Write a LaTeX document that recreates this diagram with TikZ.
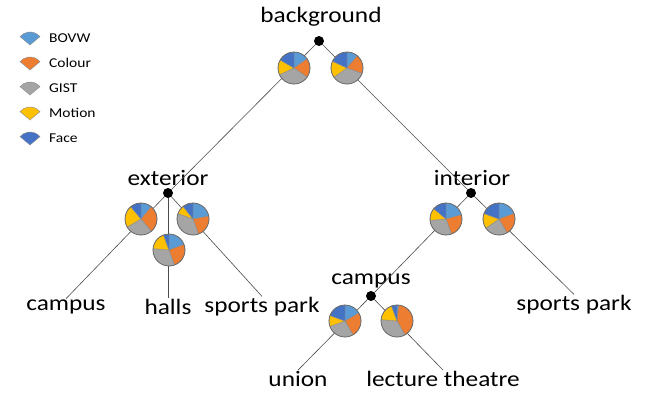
\documentclass[tikz,border=0pt]{standalone}
\usepackage{fontspec}
\setmainfont{Carlito}[FakeStretch=1.15]
\definecolor{bovw}{HTML}{5B9BD5}
\definecolor{colour}{HTML}{ED7D31}
\definecolor{gist}{HTML}{A5A5A5}
\definecolor{motion}{HTML}{FFC000}
\definecolor{face}{HTML}{4472C4}
\newcommand\pierad{16}
% one slice, angles measured clockwise from the top
\newcommand\pieslice[4]{\filldraw[slice,fill=#2] (#1) -- ++({90-#3}:\pierad) arc[start angle={90-#3}, end angle={90-#4}, radius=\pierad] -- cycle;}
% full chart: centre, then the cumulative end angles of BOVW, Colour, GIST, Motion
\newcommand\piechart[5]{%
  \pieslice{#1}{bovw}{0}{#2}
  \pieslice{#1}{colour}{#2}{#3}
  \pieslice{#1}{gist}{#3}{#4}
  \pieslice{#1}{motion}{#4}{#5}
  \pieslice{#1}{face}{#5}{360}
  \draw[pieedge] (#1) circle[radius=\pierad];}
% legend wedge pointing down
\newcommand\legwedge[2]{\filldraw[slice,fill=#2] (#1) -- ++(40:13) arc[start angle=40, end angle=140, radius=13] -- cycle;}
\begin{document}
\begin{tikzpicture}[x=1pt,y=1pt,
  lab/.style={font=\fontsize{22}{24}\selectfont, inner sep=1pt},
  leglab/.style={font=\fontsize{13.5}{15}\selectfont, anchor=west, inner sep=0pt},
  dot/.style={circle, fill=black, inner sep=0pt, minimum size=10pt},
  edge/.style={draw=black!70, line width=0.6pt},
  slice/.style={draw=black!45, line width=0.4pt},
  pieedge/.style={draw=black!60, line width=0.7pt}]
\useasboundingbox (0,0) rectangle (651,-394);
\fill[white] (0,0) rectangle (651,-394);

% tree labels and junctions
\node[lab] (bg) at (321,-17) {background};
\node[dot] (bgd) at (319,-41) {};
\node[lab] (ext) at (168,-178) {exterior};
\node[dot] (extd) at (168,-193) {};
\node[lab] (int) at (472,-178) {interior};
\node[dot] (intd) at (471,-193) {};
\node[lab] (cmp) at (371,-281) {campus};
\node[dot] (cmpd) at (371,-296) {};

% leaves
\node[lab] (lcampus) at (66,-307) {campus};
\node[lab] (lhalls) at (168,-307) {halls};
\node[lab] (lsport) at (262,-307) {sports park};
\node[lab] (rsport) at (574,-305) {sports park};
\node[lab] (lunion) at (298,-379) {union};
\node[lab] (llect) at (443,-379) {lecture theatre};

% connectors
\draw[edge] (bgd) -- (extd);
\draw[edge] (bgd) -- (intd);
\draw[edge] (extd) -- (lcampus.north);
\draw[edge] (extd) -- (lhalls.north);
\draw[edge] (extd) -- (lsport.north);
\draw[edge] (intd) -- (cmpd);
\draw[edge] (intd) -- (rsport.north);
\draw[edge] (cmpd) -- (lunion.north);
\draw[edge] (cmpd) -- (llect.north);

% pie centres
\coordinate (pa) at (294,-68);
\coordinate (pb) at (347,-68);
\coordinate (pc) at (141,-219);
\coordinate (pd) at (193,-219);
\coordinate (pe) at (169,-250);
\coordinate (pf) at (446,-219);
\coordinate (pg) at (499,-219);
\coordinate (ph) at (345,-321);
\coordinate (pi) at (397,-321);

\piechart{pa}{55}{125}{245}{300}
\piechart{pb}{40}{110}{235}{295}
\piechart{pc}{40}{140}{240}{320}
\piechart{pd}{80}{160}{290}{322}
\piechart{pe}{70}{160}{275}{340}
\piechart{pf}{75}{160}{265}{310}
\piechart{pg}{70}{150}{235}{290}
\piechart{ph}{60}{150}{250}{290}
\piechart{pi}{6}{150}{275}{340}

% legend
\coordinate (k1) at (30,-45);
\coordinate (k2) at (30,-70);
\coordinate (k3) at (30,-95);
\coordinate (k4) at (30,-120);
\coordinate (k5) at (30,-145);
\legwedge{k1}{bovw}
\legwedge{k2}{colour}
\legwedge{k3}{gist}
\legwedge{k4}{motion}
\legwedge{k5}{face}
\node[leglab] (t1) at (49,-38) {BOVW};
\node[leglab] (t2) at (49,-63) {Colour};
\node[leglab] (t3) at (49,-88) {GIST};
\node[leglab] (t4) at (49,-113) {Motion};
\node[leglab] (t5) at (49,-138) {Face};
\end{tikzpicture}
\end{document}
